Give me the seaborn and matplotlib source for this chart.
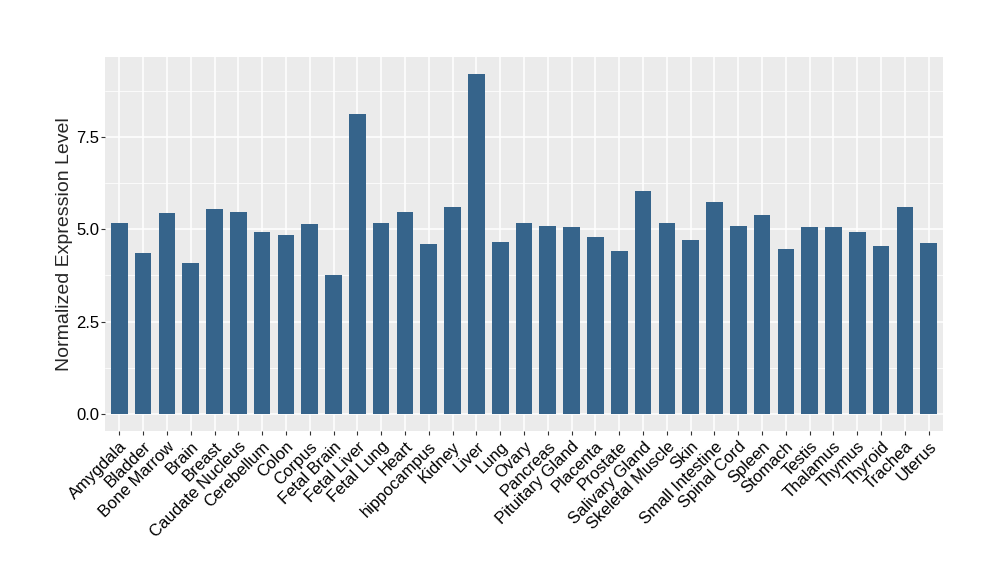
import pandas as pd
import seaborn as sns
import matplotlib.pyplot as plt
from matplotlib.ticker import MultipleLocator

tissues = ["Amygdala", "Bladder", "Bone Marrow", "Brain", "Breast", "Caudate Nucleus",
           "Cerebellum", "Colon", "Corpus", "Fetal Brain", "Fetal Liver", "Fetal Lung",
           "Heart", "hippocampus", "Kidney", "Liver", "Lung", "Ovary", "Pancreas",
           "Pituitary Gland", "Placenta", "Prostate", "Salivary Gland", "Skeletal Muscle",
           "Skin", "Small Intestine", "Spinal Cord", "Spleen", "Stomach", "Testis",
           "Thalamus", "Thymus", "Thyroid", "Trachea", "Uterus"]
expression = [5.16, 4.35, 5.43, 4.10, 5.54, 5.46,
              4.92, 4.84, 5.14, 3.75, 8.12, 5.16,
              5.46, 4.59, 5.60, 9.21, 4.65, 5.16, 5.08,
              5.05, 4.78, 4.40, 6.03, 5.16,
              4.70, 5.73, 5.08, 5.38, 4.48, 5.05,
              5.05, 4.92, 4.54, 5.60, 4.62]

df = pd.DataFrame({"tissue": tissues, "level": expression})

sns.set_theme(style="darkgrid", rc={"axes.facecolor": "#EBEBEB", "grid.color": "white"})
plt.rcParams["font.family"] = ["Liberation Sans", "DejaVu Sans"]

fig = plt.figure(figsize=(10, 5.8), dpi=100)
ax = fig.add_axes([0.105, 0.257, 0.838, 0.645])

sns.barplot(data=df, x="tissue", y="level", order=tissues, color="#36648B",
            saturation=1, width=0.7, linewidth=0, ax=ax, zorder=3)

top = max(expression) * 1.05
ax.set_xlim(-0.6, len(tissues) - 0.4)
ax.set_ylim(-max(expression) * 0.05, top)
ax.yaxis.set_minor_locator(MultipleLocator(1.25))
ax.set_yticks([0, 2.5, 5.0, 7.5])
ax.set_yticklabels(["0.0", "2.5", "5.0", "7.5"])
ax.grid(which="major", color="white", linewidth=1.1, zorder=0)
ax.grid(which="minor", axis="y", color="white", linewidth=0.55, zorder=0)
ax.set_axisbelow(True)
for s in ax.spines.values():
    s.set_visible(False)

ax.tick_params(axis="both", which="major", length=2.75, width=0.8, color="#333333",
               labelsize=12, labelcolor="black", pad=1.5, bottom=True, left=True)
ax.tick_params(axis="x", which="major", pad=3)
ax.tick_params(axis="y", which="minor", length=0)
plt.setp(ax.get_xticklabels(), rotation=45, ha="right", va="top", rotation_mode="anchor")

ax.set_xlabel("")
ax.set_ylabel("Normalized Expression Level", fontsize=14, labelpad=2)

plt.savefig("out.png", dpi=100)
